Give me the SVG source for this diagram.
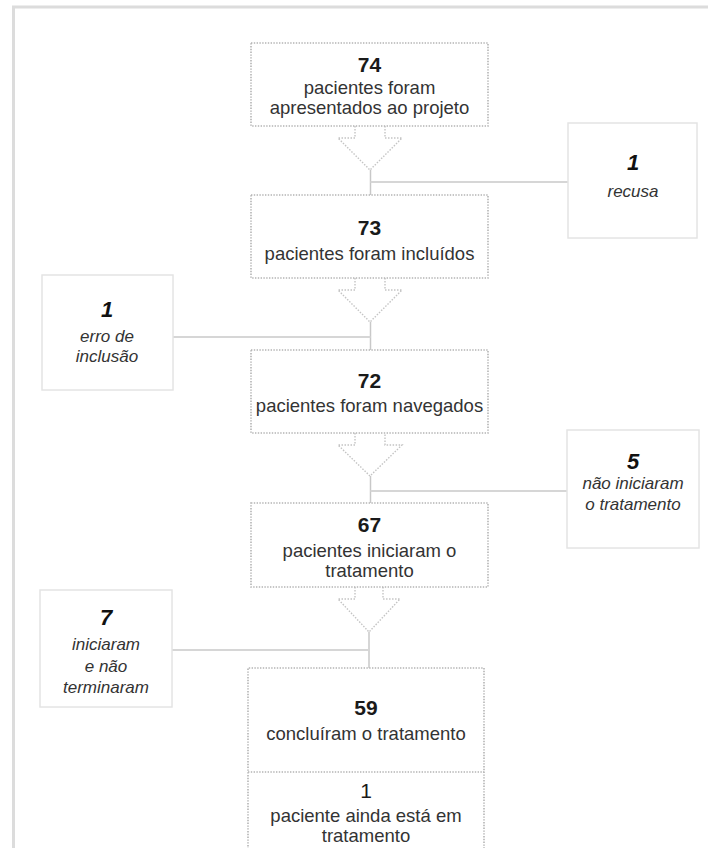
<svg xmlns="http://www.w3.org/2000/svg" width="708" height="848" viewBox="0 0 708 848">
<style>
.frame{fill:none;stroke:#dcdcdc;stroke-width:3}
.main{fill:#fff;stroke:#b4b4b4;stroke-width:1.6;stroke-dasharray:1.4 1.4}
.side{fill:#fff;stroke:#e4e4e4;stroke-width:1.5}
.arrow{fill:none;stroke:#c4c4c4;stroke-width:1.4;stroke-dasharray:1.5 1.5}
.vline{stroke:#c8c8c8;stroke-width:1.5}
.hline{stroke:#d6d6d6;stroke-width:2}
.num{font-family:"Liberation Sans",Arial,sans-serif;font-weight:bold;font-size:21px;fill:#1a1a1a;text-anchor:middle}
.txt{font-family:"Liberation Sans",Arial,sans-serif;font-size:18.5px;fill:#333;text-anchor:middle}
.inum{font-family:"Liberation Sans",Arial,sans-serif;font-weight:bold;font-style:italic;font-size:22px;fill:#111;text-anchor:middle}
.itxt{font-family:"Liberation Sans",Arial,sans-serif;font-style:italic;font-size:17px;fill:#333;text-anchor:middle}
</style>
<rect width="708" height="848" fill="#fff"/>
<path class="frame" d="M13.5 850 V7 H712"/>
<g id="connectors">
<polyline class="arrow" points="355,126 355,138 338,138 370,170 402,138 385,138 385,126"/>
<line class="vline" x1="370.5" y1="170" x2="370.5" y2="195"/>
<line class="hline" x1="370.5" y1="182" x2="568" y2="182"/>
<polyline class="arrow" points="355,278 355,290 338,290 370,322 402,290 385,290 385,278"/>
<line class="vline" x1="370.5" y1="322" x2="370.5" y2="350"/>
<line class="hline" x1="173" y1="337" x2="370.5" y2="337"/>
<polyline class="arrow" points="355,433 355,445 338,445 370,476 402,445 385,445 385,433"/>
<line class="vline" x1="370.5" y1="476" x2="370.5" y2="503"/>
<line class="hline" x1="370.5" y1="491" x2="567" y2="491"/>
<polyline class="arrow" points="355,587 355,599 338,599 369,632 400,599 383,599 383,587"/>
<line class="vline" x1="369" y1="632" x2="369" y2="668"/>
<line class="hline" x1="172" y1="650" x2="369" y2="650"/>
</g>
<g id="n74">
<rect class="main" x="251" y="43" width="237" height="83"/>
<text class="num" x="369.5" y="72">74</text>
<text class="txt" x="369.5" y="94">pacientes foram</text>
<text class="txt" x="369.5" y="114">apresentados ao projeto</text>
</g>
<g id="recusa">
<rect class="side" x="568" y="123" width="129" height="115"/>
<text class="inum" x="633" y="170">1</text>
<text class="itxt" x="633" y="197">recusa</text>
</g>
<g id="n73">
<rect class="main" x="251" y="195" width="237" height="83"/>
<text class="num" x="369.5" y="235">73</text>
<text class="txt" x="369.5" y="260">pacientes foram incluídos</text>
</g>
<g id="erro">
<rect class="side" x="42" y="275" width="131" height="115"/>
<text class="inum" x="107" y="317">1</text>
<text class="itxt" x="107" y="342">erro de</text>
<text class="itxt" x="107" y="362">inclusão</text>
</g>
<g id="n72">
<rect class="main" x="251" y="350" width="237" height="83"/>
<text class="num" x="369.5" y="388">72</text>
<text class="txt" x="369.5" y="412">pacientes foram navegados</text>
</g>
<g id="naoiniciaram">
<rect class="side" x="567" y="430" width="132" height="118"/>
<text class="inum" x="633" y="469">5</text>
<text class="itxt" x="633" y="489">não iniciaram</text>
<text class="itxt" x="633" y="510">o tratamento</text>
</g>
<g id="n67">
<rect class="main" x="251" y="503" width="237" height="84"/>
<text class="num" x="369.5" y="532">67</text>
<text class="txt" x="369.5" y="557">pacientes iniciaram o</text>
<text class="txt" x="369.5" y="577">tratamento</text>
</g>
<g id="naoterminaram">
<rect class="side" x="40" y="590" width="132" height="117"/>
<text class="inum" x="106" y="625">7</text>
<text class="itxt" x="106" y="650">iniciaram</text>
<text class="itxt" x="106" y="672">e não</text>
<text class="itxt" x="106" y="693">terminaram</text>
</g>
<g id="n59">
<path class="main" d="M248 852 V668 H484 V852"/>
<text class="num" x="366" y="715">59</text>
<text class="txt" x="366" y="740">concluíram o tratamento</text>
</g>
<g id="n1">
<line class="main" x1="248" y1="772" x2="484" y2="772"/>
<text class="num" x="366" y="798" style="font-weight:normal">1</text>
<text class="txt" x="366" y="822">paciente ainda está em</text>
<text class="txt" x="366" y="842">tratamento</text>
</g>
</svg>
